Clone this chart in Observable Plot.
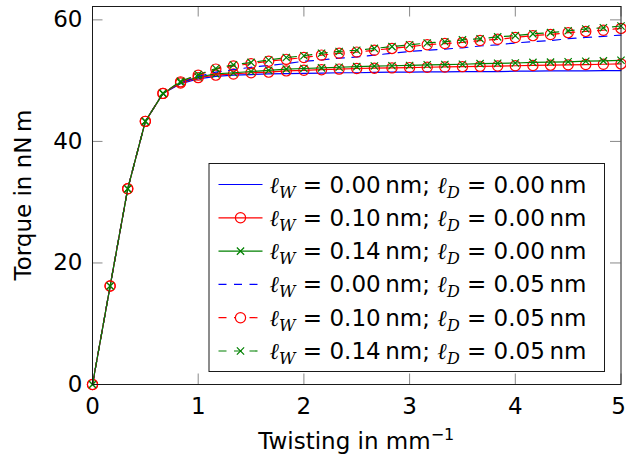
<!DOCTYPE html>
<html>
<head>
<meta charset="utf-8">
<script src="https://cdn.jsdelivr.net/npm/d3@7"></script>
<script src="https://cdn.jsdelivr.net/npm/@observablehq/plot@0.6"></script>
<style>
  body { margin: 0; background: #fff; }
  #chart { width: 626px; height: 460px; }
</style>
</head>
<body>
<div id="chart"></div>
<script>
// Twisting rate (mm^-1) at which the torque was evaluated
const twist = [0, 0.1667, 0.3333, 0.5, 0.6667, 0.8333, 1, 1.1667, 1.3333, 1.5, 1.6667,
  1.8333, 2, 2.1667, 2.3333, 2.5, 2.6667, 2.8333, 3, 3.1667, 3.3333, 3.5, 3.6667,
  3.8333, 4, 4.1667, 4.3333, 4.5, 4.6667, 4.8333, 5];

// Torque (nN m) for each pair of length scales ℓW / ℓD
const torqueW000D000 = [0, 16.2, 32.2, 43.3, 47.9, 49.5, 50.3, 50.7, 50.9, 51.0, 51.1,
  51.15, 51.2, 51.25, 51.3, 51.3, 51.35, 51.4, 51.4, 51.45, 51.45, 51.5, 51.5, 51.5,
  51.55, 51.55, 51.6, 51.6, 51.6, 51.65, 51.65];
const torqueW010D000 = [0, 16.2, 32.2, 43.3, 47.9, 49.6, 50.5, 50.9, 51.1, 51.3, 51.4,
  51.6, 51.7, 51.8, 51.9, 52.0, 52.05, 52.1, 52.15, 52.2, 52.25, 52.3, 52.35, 52.4,
  52.45, 52.5, 52.55, 52.6, 52.65, 52.7, 52.75];
const torqueW014D000 = [0, 16.2, 32.2, 43.3, 47.9, 49.7, 50.6, 51.1, 51.3, 51.5, 51.7,
  51.9, 52.0, 52.1, 52.2, 52.3, 52.4, 52.45, 52.5, 52.6, 52.65, 52.7, 52.8, 52.85,
  52.9, 53.0, 53.05, 53.1, 53.2, 53.25, 53.35];
const torqueW000D005 = [0, 16.2, 32.2, 43.3, 47.9, 49.7, 50.7, 51.4, 51.8, 52.2, 52.5,
  52.8, 53.2, 53.4, 53.7, 53.9, 54.2, 54.5, 54.8, 55.0, 55.2, 55.4, 55.7, 55.9,
  56.2, 56.4, 56.6, 56.9, 57.1, 57.3, 57.5];
const torqueW010D005 = [0, 16.2, 32.2, 43.3, 47.9, 49.8, 50.9, 51.9, 52.4, 52.8, 53.2,
  53.5, 53.8, 54.2, 54.5, 54.7, 55.0, 55.3, 55.6, 55.9, 56.1, 56.3, 56.6, 56.8,
  57.1, 57.4, 57.6, 57.9, 58.1, 58.3, 58.6];
const torqueW014D005 = [0, 16.2, 32.2, 43.3, 47.9, 49.9, 51.0, 52.0, 52.6, 53.0, 53.4,
  53.8, 54.1, 54.5, 54.8, 55.0, 55.3, 55.6, 55.9, 56.2, 56.4, 56.7, 56.9, 57.2,
  57.4, 57.7, 57.9, 58.2, 58.5, 58.7, 59.0];

// Length-scale parameters (nm) shown in the legend
const lwValues = [0.00, 0.10, 0.14, 0.00, 0.10, 0.14];
const ldValues = [0.00, 0.00, 0.00, 0.05, 0.05, 0.05];

// Axis ticks
const xTicks = [0, 1, 2, 3, 4, 5];
const yTicks = [0, 20, 40, 60];

// Drawing styles, one per curve
const BLUE = "#0000ff", RED = "#ff0000", GREEN = "#008000";
const DASH = "8,7.5";
const curves = [
  {values: torqueW000D000, color: BLUE,  dash: null, marker: null},
  {values: torqueW010D000, color: RED,   dash: null, marker: "circle"},
  {values: torqueW014D000, color: GREEN, dash: null, marker: "times"},
  {values: torqueW000D005, color: BLUE,  dash: DASH, marker: null},
  {values: torqueW010D005, color: RED,   dash: DASH, marker: "circle"},
  {values: torqueW014D005, color: GREEN, dash: DASH, marker: "times"}
];

const FONT = "'DejaVu Sans', sans-serif";
const MATH = "'DejaVu Serif', serif";
const FS = 23;
const W = 626, H = 460;
const mL = 92, mR = 5.5, mT = 6, mB = 76;
const innerW = W - mL - mR, innerH = H - mT - mB;
const TICK = 10.5;
const LW = 1.2;
const CIRCLE_R = 5.1, CROSS_R = 3.4;

const marks = [];
// inward ticks on all four sides
marks.push(Plot.tickX(xTicks, {x: d => d, stroke: "#888", strokeWidth: 1, insetTop: innerH - TICK}));
marks.push(Plot.tickX(xTicks, {x: d => d, stroke: "#888", strokeWidth: 1, insetBottom: innerH - TICK}));
marks.push(Plot.tickY(yTicks, {y: d => d, stroke: "#888", strokeWidth: 1, insetRight: innerW - TICK}));
marks.push(Plot.tickY(yTicks, {y: d => d, stroke: "#888", strokeWidth: 1, insetLeft: innerW - TICK}));

for (const c of curves) {
  marks.push(Plot.line(c.values, {
    x: (d, i) => twist[i], y: d => d,
    stroke: c.color, strokeWidth: LW, strokeDasharray: c.dash
  }));
  if (c.marker === "circle") {
    marks.push(Plot.dot(c.values, {
      x: (d, i) => twist[i], y: d => d, r: CIRCLE_R,
      stroke: c.color, fill: "none", strokeWidth: LW
    }));
  } else if (c.marker === "times") {
    marks.push(Plot.dot(c.values, {
      x: (d, i) => twist[i], y: d => d, symbol: "times", r: CROSS_R,
      stroke: c.color, strokeWidth: LW
    }));
  }
}

marks.push(Plot.frame({stroke: "#1a1a1a", strokeWidth: 1}));
// tick labels; the last one is nudged left so it stays inside the page edge
marks.push(Plot.axisX({ticks: xTicks.slice(0, -1), tickSize: 0, tickPadding: 13, label: null, fontSize: FS, tickFormat: d => String(d)}));
marks.push(Plot.axisX({ticks: xTicks.slice(-1), tickSize: 0, tickPadding: 13, label: null, fontSize: FS, dx: -2.5, tickFormat: d => String(d)}));
marks.push(Plot.axisY({ticks: yTicks, tickSize: 0, tickPadding: 10, label: null, fontSize: FS, tickFormat: d => String(d)}));

const chart = Plot.plot({
  width: W, height: H,
  marginLeft: mL, marginRight: mR, marginTop: mT, marginBottom: mB,
  x: {domain: [0, 5]},
  y: {domain: [0, 62.2]},
  style: {fontFamily: FONT, fontSize: FS + "px", color: "black", background: "white"},
  marks
});

const svg = d3.select(chart);

// axis titles
const xTitle = svg.append("text")
  .attr("x", mL + innerW / 2).attr("y", 449)
  .attr("text-anchor", "middle").attr("font-size", FS).attr("fill", "black");
xTitle.append("tspan").text("Twisting in mm");
xTitle.append("tspan").attr("dy", -9).attr("font-size", 16).text("\u22121");

svg.append("text")
  .attr("transform", `translate(31,${mT + innerH / 2}) rotate(-90)`)
  .attr("text-anchor", "middle").attr("font-size", FS).attr("fill", "black")
  .text("Torque in nN\u2009m");

// legend
const lg = svg.append("g").attr("text-anchor", "start");
const box = {x: 209, y: 163.5, w: 395.5, h: 208};
lg.append("rect").attr("x", box.x).attr("y", box.y).attr("width", box.w).attr("height", box.h)
  .attr("fill", "white").attr("stroke", "#1a1a1a").attr("stroke-width", 1);
const sx0 = 218.5, sx1 = 262.5, sxm = (sx0 + sx1) / 2, tx = 269.5;
curves.forEach((c, i) => {
  const cy = 184.5 + i * 33.3;
  lg.append("line").attr("x1", sx0).attr("x2", sx1).attr("y1", cy).attr("y2", cy)
    .attr("stroke", c.color).attr("stroke-width", LW)
    .attr("stroke-dasharray", c.dash);
  if (c.marker === "circle") {
    lg.append("circle").attr("cx", sxm).attr("cy", cy).attr("r", CIRCLE_R)
      .attr("fill", c.dash ? "white" : "none").attr("stroke", c.color).attr("stroke-width", LW);
  } else if (c.marker === "times") {
    lg.append("path").attr("transform", `translate(${sxm},${cy})`)
      .attr("d", d3.symbol(d3.symbolTimes, CROSS_R * CROSS_R * Math.PI)())
      .attr("fill", "none").attr("stroke", c.color).attr("stroke-width", LW);
  }
  const t = lg.append("text").attr("x", tx).attr("y", cy + 8).attr("font-size", FS)
    .attr("fill", "black").attr("text-anchor", "start");
  t.append("tspan").attr("font-family", MATH).attr("font-style", "italic").text("\u2113");
  t.append("tspan").attr("font-family", MATH).attr("font-style", "italic").attr("font-size", 16).attr("dy", 5).text("W");
  t.append("tspan").attr("dy", -5).text(` = ${lwValues[i].toFixed(2)}\u2009nm; `);
  t.append("tspan").attr("font-family", MATH).attr("font-style", "italic").text("\u2113");
  t.append("tspan").attr("font-family", MATH).attr("font-style", "italic").attr("font-size", 16).attr("dy", 5).text("D");
  t.append("tspan").attr("dy", -5).text(` = ${ldValues[i].toFixed(2)}\u2009nm`);
});

document.getElementById("chart").appendChild(chart);
</script>
</body>
</html>
